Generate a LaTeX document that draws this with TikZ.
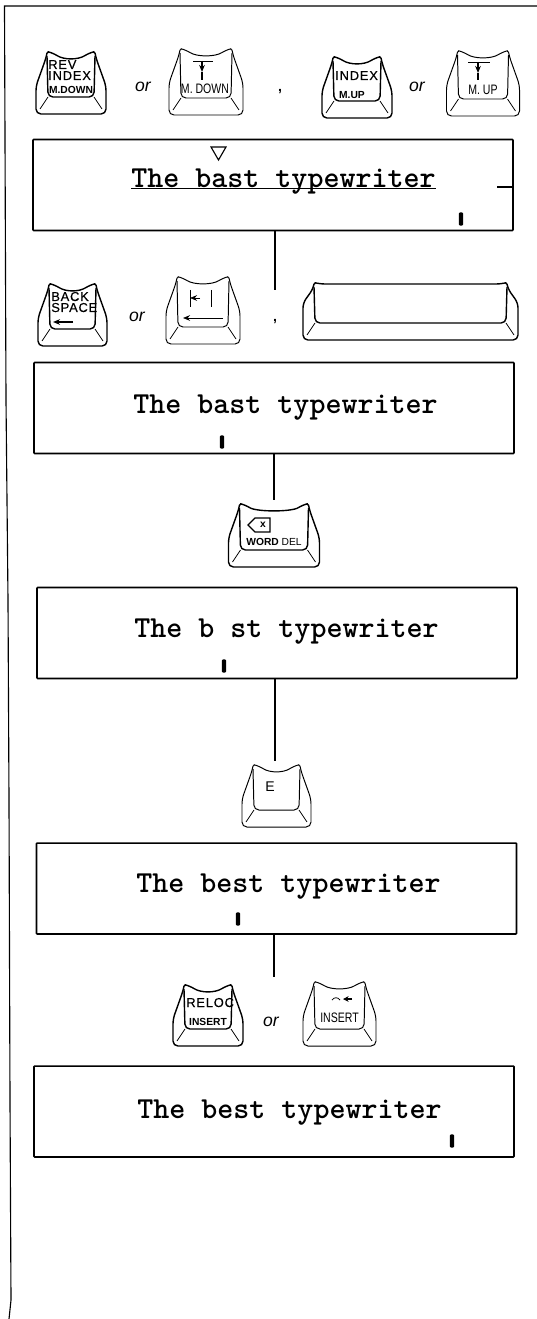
\documentclass[tikz,border=0pt]{standalone}
\usepackage{fontspec}
\setmainfont{Liberation Sans}
\newfontfamily\keyfont[LetterSpace=6,FakeBold=0.4]{Liberation Sans}
\usetikzlibrary{
  arrows.meta,
  positioning,
}
\newcommand{\tallcap}[1]{\scalebox{1}[1.3]{#1}}
\tikzset{
  >=Stealth,
  keyline/.style={line width=1pt, rounded corners=3.5pt},
  lightkey/.style={keyline/.append style={line width=0.7pt}},
  wire/.style={line width=0.8pt},
  hairline/.style={line width=0.55pt},
  display/.style={draw, line width=1.2pt, minimum width=12cm, minimum height=2.27cm,
    inner sep=0pt, rounded corners=0.5pt},
  printout/.style={font=\ttfamily\fontsize{21.7}{24}\selectfont\bfseries, inner sep=0pt, anchor=base west},
  cursormark/.style={fill, rounded corners=0.8pt, minimum width=0.11cm, minimum height=0.33cm, inner sep=0pt},
  orword/.style={font=\itshape\fontsize{12.5}{14}\selectfont, inner sep=0pt},
  commamark/.style={font=\bfseries\fontsize{10}{12}\selectfont, inner sep=0pt},
  capbig/.style={font=\keyfont\fontsize{9.2}{10}\selectfont, inner sep=0pt, anchor=base west},
  capsmall/.style={font=\fontsize{7.3}{8}\selectfont\bfseries, inner sep=0pt},
  capthin/.style={font=\fontsize{7.5}{8}\selectfont, inner sep=0pt},
  pics/keycap/.style n args={4}{code={
      \coordinate (-top) at (0,-5);
      \draw[keyline] ({-#1/2+10},5) .. controls ({-#1/2+11},0) and ({-#1/2+13},-1) .. ({-#1/2+17},0)
        .. controls ({-#1/2+28},#3) and ({#1/2-28},#3) .. ({#1/2-17},0)
        .. controls ({#1/2-13},-1) and ({#1/2-11},0) .. ({#1/2-10},5)
        -- ({#1/2},#4) -- ({#1/2},#2)
        -- ({-#1/2},#2) -- ({-#1/2},#4) -- cycle;
      \draw[keyline] ({-#1/2+11},3) -- ({-#1/2+12},{#2-17})
        -- ({#1/2-12},{#2-17}) -- ({#1/2-11},3);
      \draw[hairline] ({-#1/2+12},{#2-17}) -- ({-#1/2+4},{#2-5});
      \draw[hairline] ({#1/2-12},{#2-17}) -- ({#1/2-4},{#2-5});
  }},
}

\begin{document}
\begin{tikzpicture}[x=0.025cm,y=-0.025cm]
  \useasboundingbox (0,0) rectangle (537,1319);
  % frame
  \draw[line width=0.8pt] (537,6) -- (4.5,6) -- (6,400) -- (8,600) -- (9,800) -- (10,1100) -- (11,1300) -- (9,1319);

  % first row
  \pic (revkey) at (71,53) {keycap={70}{61}{7}{33}};
  \node[capbig] (revtxt) at (48,69) {REV};
  \node[capbig] (idxtxt) at (48,80) {INDEX};
  \node[capsmall] (mdtxt) at (71,90) {M.DOWN};
  \node[orword] (or1) at (143,87) {or};
  \pic[lightkey] (downkey) at (206,50) {keycap={74}{65}{7}{33}};
  \draw[hairline] (193,61) -- (213,61);
  \draw[wire,-{Stealth[length=5pt,width=4pt]}] (202,61) -- (202,72);
  \draw[wire] (202,72) -- (202,80);
  \node[capthin] (mdown) at (205,89) {\tallcap{M. DOWN}};
  \node[commamark] (comma1) at (280,92) {,};
  \pic (idxkey) at (357,58) {keycap={70}{60}{7}{33}};
  \node[capbig] (idx2txt) at (335,80) {INDEX};
  \node[capsmall] (muptxt) at (352,95) {M.UP};
  \node[orword] (or2) at (417,87) {or};
  \pic[lightkey] (upkey) at (483,52) {keycap={73}{64}{7}{33}};
  \draw[hairline] (468,62) -- (490,62);
  \draw[wire,-{Stealth[length=5pt,width=4pt]}] (478,62) -- (478,73);
  \draw[wire] (478,73) -- (478,80);
  \node[capthin] (mup) at (483,90) {\tallcap{M. UP}};

  % first display
  \node[display] (disp1) at (273,185) {};
  \node[printout] (line1) at (131,188) {The bast typewriter};
  \draw[line width=0.6pt] (line1.base west) -- (line1.base east);
  \draw[wire] (497,187) -- (513,187);
  \draw[wire] (211,147) -- (226,147) -- (218.5,160) -- cycle;
  \node[cursormark] (cur1) at (461,219) {};

  \coordinate (gap1) at (275,290);
  \draw[wire] (disp1.south -| gap1) -- (gap1);

  % second row
  \pic (bskey) at (72.5,285) {keycap={69}{61}{7}{33}};
  \node[capbig] (bstxt) at (51,301) {BACK};
  \node[capbig] (sptxt) at (51,312) {SPACE};
  \draw[wire,-{Stealth[length=5pt,width=4pt]}] (73,322) -- (53,322);
  \node[orword] (or3) at (137,317) {or};
  \pic[lightkey] (tabkey) at (203,278) {keycap={74}{66}{7}{33}};
  \draw[hairline,-{Stealth[length=5pt,width=4pt]}] (200,298) -- (190,298);
  \draw[hairline] (190,290) -- (190,307);
  \draw[hairline] (211,290) -- (211,307);
  \draw[hairline,-{Stealth[length=5pt,width=4pt]}] (223,318) -- (183,318);
  \node[commamark] (comma2) at (275,322) {,};
  \pic (spacekey) at (410.5,284) {keycap={215}{56}{0}{19}};

  % second display
  \node[display] (disp2) at (274,408) {};
  \node[printout] (line2) at (133,413) {The bast typewriter};
  \node[cursormark] (cur2) at (222,442) {};

  \pic (delkey) at (274,505) {keycap={91}{62}{7}{33}};
  \draw[wire] (248,525) -- (255,518) -- (270,518) -- (270,532) -- (255,532) -- cycle;
  \node[capsmall] (xtxt) at (263,525) {x};
  \node[capsmall] (deltxt) at (274,542) {WORD {\mdseries DEL}};
  \draw[wire] (disp2.south) -- (delkey-top);

  % third display
  \node[display] (disp3) at (277,633) {};
  \node[printout] (line3) at (134,637) {The b st typewriter};
  \node[cursormark] (cur3) at (224,666) {};

  \pic[lightkey] (ekey) at (276.5,766) {keycap={69}{61}{7}{33}};
  \node[capthin,font=\fontsize{10}{11}\selectfont] (etxt) at (270,787) {E};
  \coordinate (gap3) at (275,761);
  \draw[wire] (disp3.south -| gap3) -- (gap3);

  % fourth display
  \node[display] (disp4) at (276.5,888.5) {};
  \node[printout] (line4) at (136,892) {The best typewriter};
  \node[cursormark] (cur4) at (238,919) {};

  \pic (relockey) at (208,986) {keycap={70}{60}{7}{33}};
  \node[capbig] (reltxt) at (186,1007) {RELOC};
  \node[capsmall] (instxt) at (208,1022) {INSERT};
  \node[orword] (or4) at (271,1022) {or};
  \pic[lightkey] (inskey) at (339.5,983) {keycap={73}{63}{7}{33}};
  \node[capthin] (instxt2) at (339.5,1018) {\tallcap{INSERT}};
  \draw[hairline] (332,1000) .. controls (334,997) and (338,997) .. (340,1000);
  \draw[wire,-{Stealth[length=4pt,width=4pt]}] (352,999) -- (343,999);
  \coordinate (gap4) at (274,977);
  \draw[wire] (disp4.south -| gap4) -- (gap4);

  % last display
  \node[display] (disp5) at (274,1111.5) {};
  \node[printout] (line5) at (137,1118) {The best typewriter};
  \node[cursormark] (cur5) at (452,1141) {};
\end{tikzpicture}
\end{document}
